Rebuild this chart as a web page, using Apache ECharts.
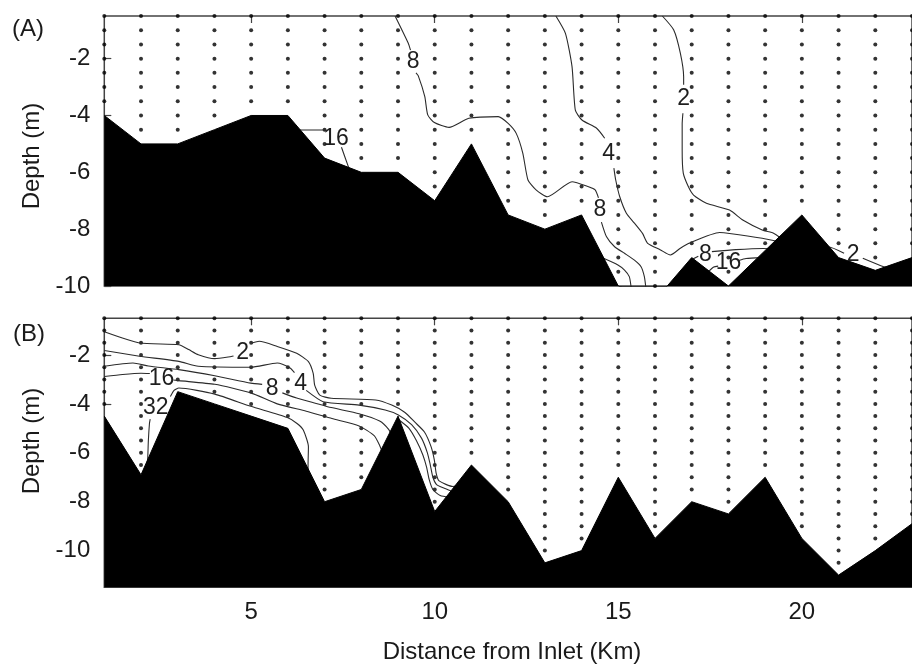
<!DOCTYPE html>
<html>
<head>
<meta charset="utf-8">
<script src="https://cdn.jsdelivr.net/npm/echarts@6/dist/echarts.min.js"></script>
<style>
  html, body { margin: 0; padding: 0; background: #fff; }
  #chart { width: 912px; height: 671px; }
</style>
</head>
<body>
<div id="chart"></div>
<script>
// Sampling stations along the channel (km from inlet)
const stationKm = [1,2,3,4,5,6,7,8,9,10,11,12,13,14,15,16,17,18,19,20,21,22,23];

// Bottom depth (m) at each station, survey A and survey B
const bottomA = [-4,-5,-5,-4.5,-4,-4,-5.5,-6,-6,-7,-5,-7.5,-8,-7.5,-10,-10.5,-9,-10,-8.75,-7.5,-9,-9.45,-9];
const bottomB = [-4.5,-6.9,-3.5,-4,-4.5,-5,-8,-7.5,-4.5,-8.4,-6.5,-8,-10.5,-10,-7,-9.5,-8,-8.5,-7,-9.5,-11,-10,-8.9];

// Sample depths (m) at each station
const sampleDepthsA = [-0.5,-1,-1.5,-2,-2.5,-3,-3.5,-4,-4.5,-5,-5.5,-6,-6.5,-7,-7.5,-8,-8.5,-9,-9.5,-10];
const sampleDepthsB = [-0.5,-1,-1.5,-2,-2.5,-3,-3.5,-4,-4.5,-5,-5.5,-6,-6.5,-7,-7.5,-8,-8.5,-9,-9.5,-10,-10.5,-11,-11.5];

// Tick labels
const xTicks = [5, 10, 15, 20];
const yTicksA = [-10, -8, -6, -4, -2];
const yTicksB = [-10, -8, -6, -4, -2];

// Isolines for survey A, each as a list of polyline pieces [km, depth]
const contourA2 = [
  [[16.2,-0.5],[16.51,-0.99],[16.69,-1.81],[16.78,-2.64],[16.78,-2.92]],
  [[16.76,-3.92],[16.74,-4.3],[16.74,-5.21],[16.77,-6.03],[16.91,-6.51],[17.05,-6.8],[17.4,-7.09],[18.03,-7.33],[18.39,-7.68],[18.92,-8.03],[19.24,-8.15],[19.6,-8.45],[20.2,-8.65],[20.71,-8.62],[21.15,-8.85]],
  [[21.66,-9.02],[22.23,-9.32],[22.6,-9.45]]
];
const contourA4 = [
  [[13.3,-0.5],[13.56,-1.11],[13.74,-2.28],[13.83,-3.81],[14.01,-4.16],[14.41,-4.45],[14.63,-4.8]],
  [[14.88,-5.85],[14.93,-6.27],[15.04,-6.86],[15.22,-7.44],[15.44,-7.79],[15.66,-8.15],[15.8,-8.5],[16.15,-8.73],[16.42,-8.91],[16.69,-8.67],[16.96,-8.48],[17.76,-8.12],[18.03,-8.15],[18.92,-8.32],[19.4,-8.45]]
];
const contourA8 = [
  [[8.92,-0.5],[9.28,-1.46],[9.34,-1.7]],
  [[9.49,-2.5],[9.55,-2.6],[9.73,-3.34],[9.81,-3.98],[9.99,-4.25],[10.39,-4.42],[10.93,-4.1],[11.73,-4.04],[12.0,-4.28],[12.22,-4.63],[12.4,-5.33],[12.54,-6.27],[12.76,-6.62],[13.07,-6.86],[13.74,-6.33],[14.19,-6.51],[14.37,-6.62],[14.46,-6.9]],
  [[14.54,-7.75],[14.68,-8.27],[14.9,-8.62],[15.17,-8.85],[15.44,-9.09],[15.62,-9.32],[15.71,-9.67],[15.75,-10.05]],
  [[16.95,-9.1],[17.18,-8.95]],
  [[17.55,-8.79],[18.2,-8.72],[18.95,-8.68],[19.3,-8.7]]
];
const contourA16 = [
  [[6.2,-4.51],[7.02,-4.51]],
  [[7.46,-5.12],[7.63,-5.74],[7.72,-6.05]],
  [[14.55,-9.0],[14.99,-9.26],[15.17,-9.44],[15.3,-9.67],[15.35,-10.05]],
  [[17.45,-9.5],[17.6,-9.33],[17.72,-9.3]],
  [[18.28,-9.1],[18.48,-9.03],[18.9,-9.0]]
];
const labelsA = [
  [9.41,-2.1,'8'], [14.5,-7.33,'8'], [17.37,-8.9,'8'],
  [14.74,-5.33,'4'], [16.78,-3.42,'2'], [21.4,-8.88,'2'],
  [7.31,-4.8,'16'], [18.0,-9.17,'16']
];

// Isolines for survey B
const contourB2 = [
  [[1,-1.05],[1.96,-1.51],[3.03,-1.58],[3.3,-1.78],[3.56,-1.99],[4.01,-2.15],[4.46,-2.06],[4.52,-2.04]],
  [[5.02,-1.51],[5.22,-1.44],[5.71,-1.65],[6.24,-1.93],[6.56,-2.27],[6.69,-2.75],[6.73,-3.23],[6.87,-3.64],[7.18,-3.77],[8.39,-3.84],[8.83,-4.05],[9.19,-4.35],[9.46,-4.75],[9.72,-5.15],[9.9,-5.75],[9.99,-6.3],[10.04,-6.84],[10.12,-7.15],[10.5,-7.38],[10.7,-7.3]]
];
const contourB4 = [
  [[1,-1.82],[1.96,-2.05],[3.03,-2.26],[3.56,-2.46],[4.99,-2.5],[5.71,-2.33],[6.06,-2.53],[6.18,-2.72]],
  [[6.5,-3.45],[6.96,-3.91],[7.94,-4.05],[8.65,-4.25],[9.01,-4.45],[9.37,-4.85],[9.64,-5.4],[9.8,-6.0],[9.88,-6.5],[9.95,-7.0],[10.05,-7.3],[10.26,-7.45],[10.55,-7.62]]
];
const contourB8 = [
  [[1,-2.46],[1.78,-2.33],[2.2,-2.45],[3.03,-2.6],[4.01,-2.85],[4.99,-3.15],[5.3,-3.2]],
  [[5.85,-3.55],[6.24,-3.76],[6.7,-3.95],[7.18,-4.15],[7.94,-4.4],[8.5,-4.7],[8.75,-5.05],[8.85,-5.35]],
  [[9.02,-4.65],[9.3,-5.0],[9.5,-5.5],[9.68,-6.1],[9.78,-6.6],[9.85,-7.1],[9.95,-7.5],[10.15,-7.75],[10.4,-7.82]]
];
const contourB16 = [
  [[1,-2.88],[1.5,-2.8],[2.0,-2.75],[2.24,-2.76]],
  [[2.88,-3.02],[3.03,-3.05],[4.01,-3.2],[4.99,-3.55],[5.71,-4.0],[6.5,-4.3],[7.2,-4.6],[7.94,-4.9],[8.35,-5.3],[8.5,-5.7],[8.62,-6.15]]
];
const contourB32 = [
  [[2.15,-6.5],[2.18,-6.3],[2.2,-5.5],[2.23,-4.8],[2.25,-4.62]],
  [[2.8,-3.7],[2.9,-3.45],[3.03,-3.35],[4.01,-3.6],[4.99,-4.1],[5.97,-4.55],[6.25,-4.8],[6.42,-5.07],[6.56,-5.75],[6.55,-6.5],[6.55,-6.9]]
];
const labelsB = [
  [4.77,-1.92,'2'], [6.35,-3.16,'4'], [5.57,-3.38,'8'],
  [2.56,-2.95,'16'], [2.4,-4.15,'32']
];

const FONT = "'Liberation Sans', Arial, Helvetica, sans-serif";
const INK = '#1a1a1a';
const LINE_INK = '#2b2b2b';
const GRID_LEFT = 104.3;
const KM_PX = 37.33;

// Sample points lying above the bottom at each station
function samplePoints(bottom, depths) {
  const pts = [];
  stationKm.forEach((km, i) => {
    depths.forEach(d => { if (d > bottom[i] + 0.01) pts.push([km, d]); });
  });
  return pts;
}

function contourSeries(pieces, gridIdx, xIdx) {
  return pieces.map(piece => ({
    type: 'line', xAxisIndex: xIdx, yAxisIndex: gridIdx,
    data: piece, symbol: 'none', smooth: 0.2, silent: true, z: 3,
    lineStyle: { color: LINE_INK, width: 1.1 }
  }));
}

// Isoline value labels, placed through the axes of their grid
function labelSeries(labels, gridIdx, xIdx) {
  return {
    type: 'custom', xAxisIndex: xIdx, yAxisIndex: gridIdx, silent: true, z: 6,
    data: labels.map(l => [l[0], l[1], l[2]]),
    dimensions: ['km', 'depth', 'text'],
    encode: { x: 0, y: 1 },
    renderItem: (params, api) => {
      const p = api.coord([api.value(0), api.value(1)]);
      return {
        type: 'text', x: p[0], y: p[1],
        style: {
          text: labels[params.dataIndex][2],
          font: '23px ' + FONT, fill: '#1e1e1e',
          align: 'center', verticalAlign: 'middle'
        }
      };
    }
  };
}

function bottomSeries(bottom, gridIdx, xIdx) {
  return {
    type: 'line', xAxisIndex: xIdx, yAxisIndex: gridIdx, silent: true, z: 5,
    data: stationKm.map((km, i) => [km, bottom[i]]),
    symbol: 'none', clip: true,
    lineStyle: { color: '#000', width: 1 },
    areaStyle: { color: '#000', opacity: 1, origin: 'start' }
  };
}

function dotSeries(bottom, depths, gridIdx, xIdx) {
  return {
    type: 'scatter', xAxisIndex: xIdx, yAxisIndex: gridIdx, silent: true, z: 2,
    symbol: 'circle', symbolSize: 4,
    itemStyle: { color: '#000' },
    data: samplePoints(bottom, depths)
  };
}

const topXAxis = gi => ({
  gridIndex: gi, type: 'value', min: 1, max: 23, position: 'top',
  axisLine: { show: false },
  axisTick: { show: true, inside: true, length: 7, customValues: xTicks, lineStyle: { color: '#444', width: 1.2 } },
  axisLabel: { show: false },
  splitLine: { show: false }
});

const yAxisDef = (gi, min, ticks) => ({
  gridIndex: gi, type: 'value', min: min, max: -0.5,
  axisLine: { show: false },
  axisTick: { show: true, inside: true, length: 7, customValues: ticks, lineStyle: { color: '#444', width: 1.2 } },
  axisLabel: { customValues: ticks, margin: 14, fontFamily: FONT, fontSize: 24, color: INK },
  splitLine: { show: false }
});

const chart = echarts.init(document.getElementById('chart'), null, { renderer: 'canvas' });

chart.setOption({
  animation: false,
  backgroundColor: '#fff',
  grid: [
    { left: GRID_LEFT, top: 16, width: KM_PX * 22, height: 270, show: true, borderColor: '#444', borderWidth: 1.5, backgroundColor: 'transparent' },
    { left: GRID_LEFT, top: 318.3, width: KM_PX * 22, height: 269, show: true, borderColor: '#444', borderWidth: 1.5, backgroundColor: 'transparent' }
  ],
  xAxis: [
    topXAxis(0),
    topXAxis(1),
    {
      gridIndex: 1, type: 'value', min: 1, max: 23, position: 'bottom',
      axisLine: { show: false }, axisTick: { show: false }, splitLine: { show: false },
      axisLabel: { customValues: xTicks, margin: 13, fontFamily: FONT, fontSize: 24, color: INK }
    }
  ],
  yAxis: [
    yAxisDef(0, -10, yTicksA),
    yAxisDef(1, -11.5, yTicksB)
  ],
  graphic: [
    { type: 'text', x: 28, y: 29, style: { text: '(A)', font: '24px ' + FONT, fill: INK, align: 'center', verticalAlign: 'middle' } },
    { type: 'text', x: 29, y: 334, style: { text: '(B)', font: '24px ' + FONT, fill: INK, align: 'center', verticalAlign: 'middle' } },
    { type: 'text', x: 32, y: 156, rotation: Math.PI / 2, style: { text: 'Depth (m)', font: '24px ' + FONT, fill: INK, align: 'center', verticalAlign: 'middle' } },
    { type: 'text', x: 32, y: 441, rotation: Math.PI / 2, style: { text: 'Depth (m)', font: '24px ' + FONT, fill: INK, align: 'center', verticalAlign: 'middle' } },
    { type: 'text', x: 512, y: 652, style: { text: 'Distance from Inlet (Km)', font: '24px ' + FONT, fill: INK, align: 'center', verticalAlign: 'middle' } }
  ],
  series: [
    dotSeries(bottomA, sampleDepthsA, 0, 0),
    dotSeries(bottomB, sampleDepthsB, 1, 1),
    ...contourSeries(contourA2, 0, 0),
    ...contourSeries(contourA4, 0, 0),
    ...contourSeries(contourA8, 0, 0),
    ...contourSeries(contourA16, 0, 0),
    ...contourSeries(contourB2, 1, 1),
    ...contourSeries(contourB4, 1, 1),
    ...contourSeries(contourB8, 1, 1),
    ...contourSeries(contourB16, 1, 1),
    ...contourSeries(contourB32, 1, 1),
    bottomSeries(bottomA, 0, 0),
    bottomSeries(bottomB, 1, 1),
    labelSeries(labelsA, 0, 0),
    labelSeries(labelsB, 1, 1)
  ]
});
</script>
</body>
</html>
